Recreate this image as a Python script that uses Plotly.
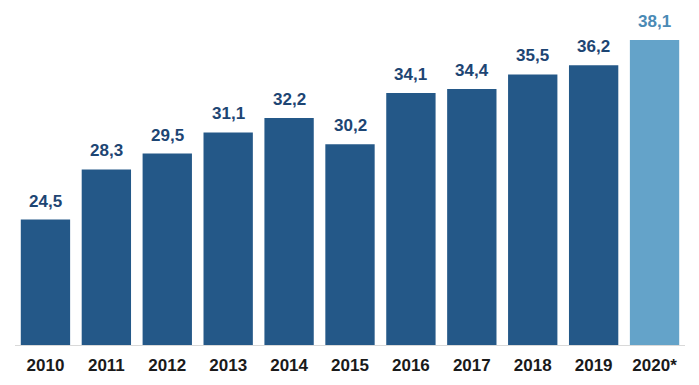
import plotly.graph_objects as go

years = ["2010", "2011", "2012", "2013", "2014", "2015", "2016", "2017", "2018", "2019", "2020*"]
values = [24.5, 28.3, 29.5, 31.1, 32.2, 30.2, 34.1, 34.4, 35.5, 36.2, 38.1]

dark = "#245888"
light = "#64a3c9"
colors = [dark] * 10 + [light]
label_colors = ["#1d4573"] * 10 + ["#4a8ab5"]

pos = list(range(len(years)))

fig = go.Figure()
fig.add_trace(go.Bar(
    x=pos, y=values, marker=dict(color=colors, line=dict(width=0)),
    hovertext=years, hoverinfo="text+y",
))

annotations = []
for p, v, c in zip(pos, values, label_colors):
    annotations.append(dict(
        x=p, y=v, xref="x", yref="y",
        text="<b>" + f"{v:.1f}".replace(".", ",") + "</b>",
        showarrow=False, yanchor="bottom", yshift=7,
        font=dict(family="Arial, Liberation Sans, sans-serif", size=17, color=c),
    ))

# page body has an 8px margin, so the figure is sized to fit inside the window
fig.update_layout(
    width=691, height=377,
    margin=dict(l=7, r=14, t=7, b=40),
    paper_bgcolor="white", plot_bgcolor="white",
    bargap=0.19,
    showlegend=False,
    annotations=annotations,
    xaxis=dict(
        range=[-0.5, len(years) - 0.5],
        tickmode="array", tickvals=pos, ticktext=["<b>" + y + "</b>" for y in years],
        showgrid=False, zeroline=False,
        showline=True, linecolor="#d9d9d9", linewidth=1,
        ticks="outside", ticklen=5, tickcolor="rgba(0,0,0,0)",
        tickfont=dict(family="Arial, Liberation Sans, sans-serif", size=17, color="#1a1a1a"),
    ),
    yaxis=dict(range=[15, 40], visible=False, showgrid=False, zeroline=False),
)

fig.write_html("out.html")
